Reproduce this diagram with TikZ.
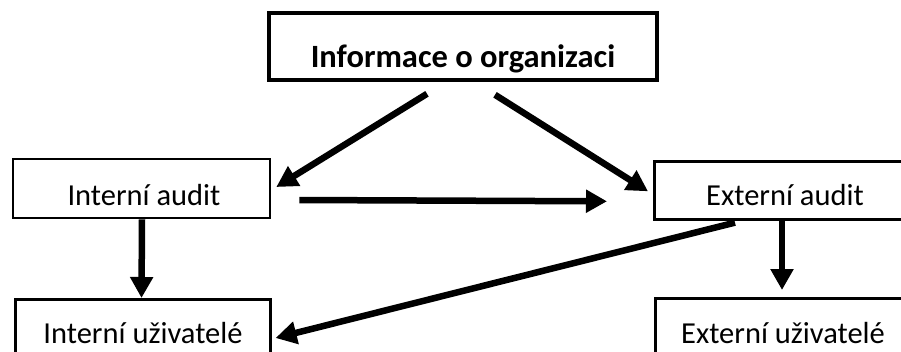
\documentclass[tikz,border=0pt]{standalone}
\usepackage{fontspec}
\setmainfont{Carlito}
\usetikzlibrary{arrows.meta}
\begin{document}
\begin{tikzpicture}[x=1pt,y=-1pt,
  box/.style={draw=black,line width=2.6pt,fill=white,inner sep=0pt},
  topbox/.style={draw=black,line width=3.6pt,fill=white,inner sep=0pt},
  lbl/.style={anchor=base,inner sep=0pt,font=\fontsize{30.5}{34}\selectfont},
  arr/.style={line width=6.5pt,-{Triangle[length=21pt,width=22pt]}}]
\useasboundingbox (0,0) rectangle (901,351);
\clip (0,0) rectangle (901,351);
\node[topbox,minimum width=388pt,minimum height=67pt] (top) at (463,46.5) {};
\node[box,minimum width=257pt,minimum height=59pt] (ia) at (141.5,188.5) {};
\node[box,minimum width=320pt,minimum height=58pt,anchor=north west] (ea) at (653,160) {};
\node[box,minimum width=255pt,minimum height=90pt,anchor=north west] (iu) at (14,298) {};
\node[box,minimum width=320pt,minimum height=90pt,anchor=north west] (eu) at (654,297) {};
\node[lbl,font=\fontsize{32.5}{36}\selectfont\bfseries] (toptext) at (463,67) {Informace o organizaci};
\node[lbl] (iatext) at (144,205) {Interní audit};
\node[lbl] (eatext) at (785,205) {Externí audit};
\node[lbl] (iutext) at (143,343) {Interní uživatelé};
\node[lbl] (eutext) at (783,343) {Externí uživatelé};
\draw[arr] ([xshift=-36pt,yshift=-12pt]top.south) -- ([xshift=5pt,yshift=1.5pt]ia.east);
\draw[arr] ([xshift=32pt,yshift=-13pt]top.south) -- ([xshift=-5pt,yshift=-1pt]ea.west);
\draw[arr] ([xshift=28pt,yshift=-11.5pt]ia.east) -- ([xshift=-46pt,yshift=-11pt]ea.west);
\draw[arr] ([xshift=0.5pt]ia.south) -- (iu.north -| ia.south);
\draw[arr] ([xshift=129pt]ea.south west) -- ([xshift=128pt,yshift=7pt]eu.north west);
\draw[arr] ([xshift=82pt,yshift=-2pt]ea.south west) -- ([xshift=4pt,yshift=-40pt]iu.north east);
\end{tikzpicture}
\end{document}
